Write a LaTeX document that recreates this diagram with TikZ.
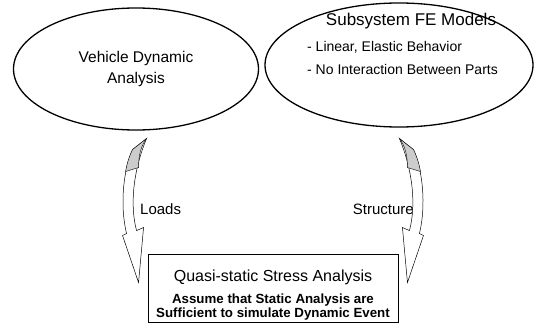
\documentclass[tikz,border=0pt]{standalone}
\usepackage{fontspec}
\setmainfont{Liberation Sans}
\usetikzlibrary{shapes.geometric,positioning}

\begin{document}
\begin{tikzpicture}[x=1pt, y=-1pt,
oval/.style={draw, ellipse, line width=1.3pt, inner sep=0pt},
note/.style={font=\fontsize{15}{18}\selectfont, inner sep=0pt},
bentarrow/.pic={
  \filldraw[fill=white, line width=0.5pt]
    (-1,-115) -- (-15,-104) .. controls (-24,-84) and (-28,-49) .. (-21,-20)
    -- (-25,-18) -- (-9,29) -- (-4,-26) -- (-11,-23)
    .. controls (-18,-49) and (-14,-84) .. (-1,-115) -- cycle;
  \filldraw[fill=gray!40, line width=0.4pt]
    (-1,-115) -- (-15,-104) .. controls (-19,-96) and (-21,-88) .. (-22,-82)
    -- (-9,-86) .. controls (-9,-100) and (-6,-108) .. (-1,-115) -- cycle;
}
]
\useasboundingbox (0,0) rectangle (538,332);
\node[oval, minimum width=245pt, minimum height=122pt, align=center, font=\fontsize{15.5}{21}\selectfont] (vda) at (136,69) {Vehicle Dynamic\\Analysis};
\node[oval, minimum width=268pt, minimum height=124pt] (fem) at (399,65) {};
\node[font=\fontsize{17}{20}\selectfont, anchor=base, inner sep=0pt] (femtitle) at (411,25) {Subsystem FE Models};
\node[font=\fontsize{14}{22.5}\selectfont, anchor=base west, align=left, inner sep=0pt] (femlist) at (307,74) {- Linear, Elastic Behavior\\- No Interaction Between Parts};
\node[draw, line width=0.9pt, minimum width=250pt, minimum height=68pt, align=center, inner sep=0pt] (qsa) at (273,288)
  {\rule{0pt}{26pt}\fontsize{16}{18}\selectfont Quasi-static Stress Analysis\\[8pt]
   \bfseries\fontsize{13.3}{12.5}\selectfont Assume that Static Analysis are\\
   \bfseries\fontsize{13.3}{12.5}\selectfont Sufficient to simulate Dynamic Event};
\node[note, anchor=base west] (loads) at (140,214) {Loads};
\node[note, anchor=base east] (struct) at (414,214) {Structure};
\pic at (qsa.north west) {bentarrow};
\pic[xscale=-1] at (qsa.north east) {bentarrow};
\end{tikzpicture}
\end{document}
